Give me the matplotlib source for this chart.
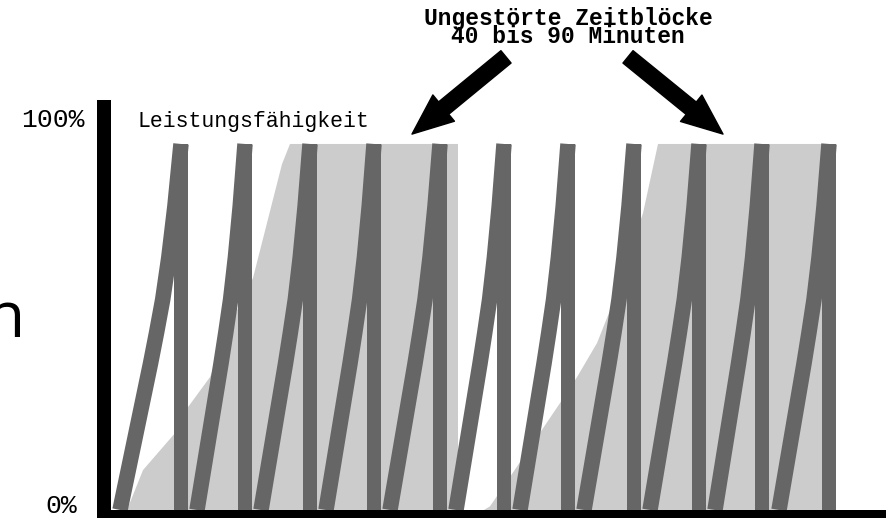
import matplotlib.pyplot as plt
import numpy as np

# x in pixel-like units from the y axis, y in percent of Leistungsfähigkeit
tooth_start = [16, 93, 157, 222, 286, 352, 416, 480, 546, 611, 675]
tooth_peak = [77, 141, 206, 270, 336, 400, 464, 530, 595, 658, 725]

# how one tooth rises: fraction of its width -> percent
rise_frac = [0, 0.1, 0.2, 0.3, 0.4, 0.5, 0.6, 0.7, 0.8, 0.9, 1.0]
rise_pct = [0, 8, 16, 24, 32, 40, 48.5, 57.5, 69, 83, 100]

# the two light grey "undisturbed" blocks
block1_x = [23, 39, 71, 84, 106, 133, 149, 178, 186, 354, 354]
block1_y = [0, 10.9, 21, 28.1, 36.3, 54.6, 63.4, 94.5, 100, 100, 0]
block2_x = [380, 386, 433, 456, 473, 493, 509, 539, 554, 732, 732]
block2_y = [0, 1, 19.9, 29.2, 36.3, 45.6, 56.6, 81.1, 100, 100, 0]

title_lines = ['Ungestörte Zeitblöcke', '40 bis 90 Minuten']

dark = '#666666'
light = '#cccccc'
px = 0.72  # points per pixel at dpi 100

fig = plt.figure(figsize=(8.87, 5.18), dpi=100)
ax = fig.add_axes([104 / 887, 3 / 518, 783 / 887, 408 / 518])
ax.set_xlim(0, 783)
ax.set_ylim(-1.37, 110.1)

ax.fill(block1_x, block1_y, color=light, lw=0, zorder=1)
ax.fill(block2_x, block2_y, color=light, lw=0, zorder=1)

for s, p in zip(tooth_start, tooth_peak):
    xs = s + np.array(rise_frac) * (p - s)
    ax.plot(xs, rise_pct, color=dark, lw=15.5 * px, solid_capstyle='butt',
            solid_joinstyle='round', zorder=2)
ax.vlines(tooth_peak, 0, 100, color=dark, lw=14 * px, zorder=2)

for side in ['top', 'right']:
    ax.spines[side].set_visible(False)
ax.spines['left'].set_linewidth(14 * px)
ax.spines['bottom'].set_linewidth(10 * px)
ax.set_xticks([])
ax.set_yticks([])

ax.text(-19, 104.6, '100%', ha='right', va='baseline', family='Liberation Mono', fontsize=19)
ax.text(-27, -0.85, '0%', ha='right', va='baseline', family='Liberation Mono', fontsize=19)
ax.text(34, 104.7, 'Leistungsfähigkeit', ha='left', va='baseline',
        family='Liberation Mono', fontsize=15.5)

# two tight lines, as in the original slide
ax.text(464, 137.3, '\n'.join(title_lines), ha='center', va='top', multialignment='center',
        linespacing=0.7, family='Liberation Mono', fontweight='bold', fontsize=16.5)

arrow = dict(arrowstyle='simple,head_length=2.95,head_width=2.45,tail_width=1.15',
             color='black', shrinkA=0, shrinkB=0)
ax.annotate('', xy=(308, 102.7), xytext=(402, 123.8), arrowprops=arrow, annotation_clip=False)
ax.annotate('', xy=(619, 102.7), xytext=(524, 123.8), arrowprops=arrow, annotation_clip=False)

# leftover letter from the slide, cut at the left edge
fig.text(-15 / 887, 181 / 518, 'n', fontsize=46, family='Open Sans', va='baseline')

fig.savefig('out.png', dpi=100)
